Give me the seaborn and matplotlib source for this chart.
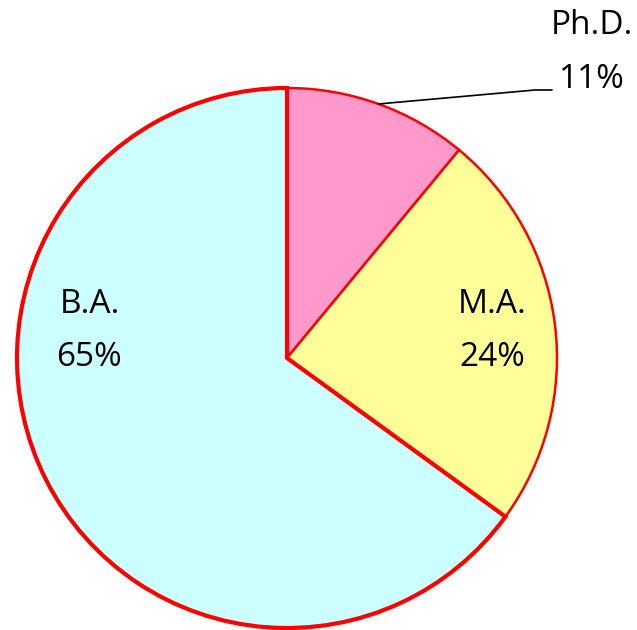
import matplotlib
matplotlib.use("Agg")
import matplotlib.pyplot as plt
import seaborn as sns

categories = ["Ph.D.", "M.A.", "B.A."]
values = [11, 24, 65]
colors = ["#FF99CC", "#FFFF99", "#CCFFFF"]

sns.set_theme(style="white")
plt.rcParams['font.family'] = ['Open Sans', 'DejaVu Sans']

fig = plt.figure(figsize=(6.37, 6.30), dpi=100)
ax = fig.add_axes([0, 0, 1, 1])
R = 270.0
cx, cy = 287.0, 358.0

wedges, _ = ax.pie(values, colors=colors, startangle=90, counterclock=False,
                   radius=1.0, wedgeprops=dict(edgecolor="#FF0000", linewidth=1.8))
wedges[2].set_linewidth(3.0)
wedges[2].set_zorder(3)

ax.set_xlim(-cx / R, (637 - cx) / R)
ax.set_ylim(-(630 - cy) / R, cy / R)
ax.set_aspect("equal")
ax.axis("off")

def px(x, y):
    return ((x - cx) / R, (cy - y) / R)

fs = 24
tc = "black"
# B.A.
ax.text(*px(90, 305), categories[2], ha="center", va="center", fontsize=fs, color=tc)
ax.text(*px(89, 358), f"{values[2]}%", ha="center", va="center", fontsize=fs, color=tc)
# M.A.
ax.text(*px(492, 305), categories[1], ha="center", va="center", fontsize=fs, color=tc)
ax.text(*px(492, 358), f"{values[1]}%", ha="center", va="center", fontsize=fs, color=tc)
# Ph.D.
ax.text(*px(592, 26), categories[0], ha="center", va="center", fontsize=fs, color=tc)
ax.text(*px(592, 79), f"{values[0]}%", ha="center", va="center", fontsize=fs, color=tc)
# leader line
p0, p1, p2 = px(378, 104), px(535, 90), px(552, 90)
ax.plot([p0[0], p1[0], p2[0]], [p0[1], p1[1], p2[1]], color="black", linewidth=1.2, zorder=5)

fig.savefig("out.png", dpi=100)
